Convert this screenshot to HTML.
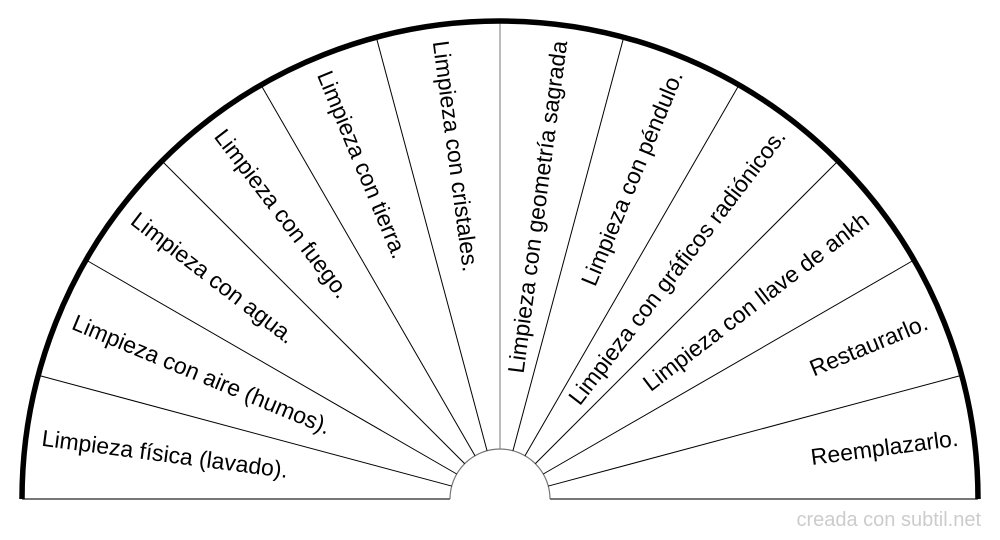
<!DOCTYPE html>
<html><head><meta charset="utf-8"><style>
html,body{margin:0;padding:0;background:#fff;}
svg{display:block;}
text{font-family:"Liberation Sans",sans-serif;}
</style></head><body>
<svg width="1000" height="540" viewBox="0 0 1000 540" xmlns="http://www.w3.org/2000/svg">
<g transform="translate(500,499)">
<line x1="-478" y1="0" x2="-50" y2="0" stroke="#777" stroke-width="2"/>
<line x1="50" y1="0" x2="478" y2="0" stroke="#777" stroke-width="2"/>
<path d="M -50 0 A 50 50 0 0 1 50 0" fill="none" stroke="#777" stroke-width="1.2"/>
<g stroke="#000" stroke-width="1">
<line x1="-50" y1="0" x2="-478" y2="0" transform="rotate(15)"/>
<line x1="-50" y1="0" x2="-478" y2="0" transform="rotate(30)"/>
<line x1="-50" y1="0" x2="-478" y2="0" transform="rotate(45)"/>
<line x1="-50" y1="0" x2="-478" y2="0" transform="rotate(60)"/>
<line x1="-50" y1="0" x2="-478" y2="0" transform="rotate(75)"/>
<line x1="-50" y1="0" x2="-478" y2="0" transform="rotate(90)" stroke="#777"/>
<line x1="-50" y1="0" x2="-478" y2="0" transform="rotate(105)"/>
<line x1="-50" y1="0" x2="-478" y2="0" transform="rotate(120)"/>
<line x1="-50" y1="0" x2="-478" y2="0" transform="rotate(135)"/>
<line x1="-50" y1="0" x2="-478" y2="0" transform="rotate(150)"/>
<line x1="-50" y1="0" x2="-478" y2="0" transform="rotate(165)"/>
</g>
<path d="M -478 0 A 478 478 0 0 1 478 0" fill="none" stroke="#000" stroke-width="5.5"/>
<g font-size="23" fill="#000">
<text x="-462" y="7" transform="rotate(7.5)">Limpieza física (lavado).</text>
<text x="-462" y="7" transform="rotate(22.5)">Limpieza con aire (humos).</text>
<text x="-462" y="7" transform="rotate(37.5)">Limpieza con agua.</text>
<text x="-462" y="7" transform="rotate(52.5)">Limpieza con fuego.</text>
<text x="-462" y="7" transform="rotate(67.5)">Limpieza con tierra.</text>
<text x="-462" y="7" transform="rotate(82.5)">Limpieza con cristales.</text>
<text x="462" y="7" text-anchor="end" transform="rotate(-82.5)">Limpieza con geometría sagrada</text>
<text x="462" y="7" text-anchor="end" transform="rotate(-67.5)">Limpieza con péndulo.</text>
<text x="462" y="7" text-anchor="end" transform="rotate(-52.5)">Limpieza con gráficos radiónicos.</text>
<text x="462" y="7" text-anchor="end" transform="rotate(-37.5)">Limpieza con llave de ankh</text>
<text x="462" y="7" text-anchor="end" transform="rotate(-22.5)">Restaurarlo.</text>
<text x="462" y="7" text-anchor="end" transform="rotate(-7.5)">Reemplazarlo.</text>
</g>
</g>
<text x="981" y="526" text-anchor="end" font-size="20" fill="#ccc">creada con subtil.net</text>
</svg>
</body></html>
